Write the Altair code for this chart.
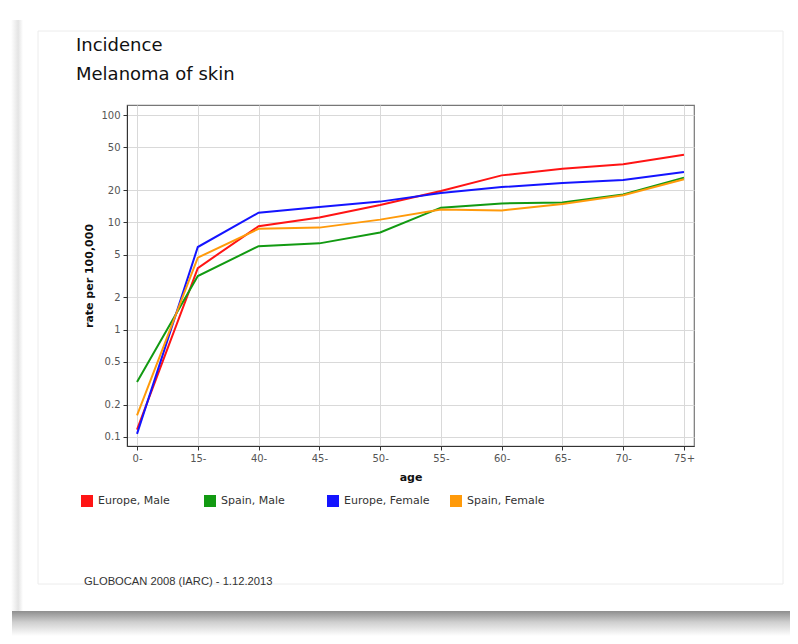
import altair as alt
import pandas as pd

ages = ["0-", "15-", "40-", "45-", "50-", "55-", "60-", "65-", "70-", "75+"]
series_names = ["Europe, Male", "Spain, Male", "Europe, Female", "Spain, Female"]
series_colors = ["#ff1414", "#129a12", "#1414ff", "#ff9a0a"]

europe_male = [0.117, 3.75, 9.2, 11.1, 14.5, 19.6, 27.4, 31.6, 34.7, 42.7]
spain_male = [0.325, 3.16, 6.0, 6.37, 8.05, 13.7, 15.0, 15.3, 18.2, 26.1]
europe_female = [0.107, 5.89, 12.3, 13.9, 15.6, 18.8, 21.3, 23.2, 24.8, 29.4]
spain_female = [0.159, 4.69, 8.7, 8.93, 10.6, 13.2, 12.9, 14.8, 17.9, 25.2]

y_ticks = [0.1, 0.2, 0.5, 1, 2, 5, 10, 20, 50, 100]
title_lines = ["Incidence", "Melanoma of skin"]
footer_text = "GLOBOCAN 2008 (IARC) - 1.12.2013"

rows = []
for name, vals in zip(series_names,
                      [europe_male, spain_male, europe_female, spain_female]):
    for a, v in zip(ages, vals):
        rows.append({"age": a, "rate": v, "series": name})
df = pd.DataFrame(rows)

W, H = 567, 341
PAD_L, PAD_T = 119, 97

lines = alt.Chart(df).mark_line(strokeWidth=2).encode(
    x=alt.X("age:N", sort=ages,
            scale=alt.Scale(type="point", padding=0.165),
            axis=alt.Axis(title="age", labelAngle=0, grid=True,
                          titleFontWeight="bold", titleFontSize=11,
                          titleColor="#111", titlePadding=8)),
    y=alt.Y("rate:Q",
            scale=alt.Scale(type="log", domain=[0.0824, 124], nice=False),
            axis=alt.Axis(title="rate per 100,000", values=y_ticks,
                          format="~g", grid=True,
                          titleFontWeight="bold", titleFontSize=11,
                          titleColor="#111", titlePadding=6)),
    color=alt.Color("series:N", sort=series_names,
                    scale=alt.Scale(domain=series_names, range=series_colors),
                    legend=alt.Legend(title=None, orient="none",
                                      legendX=-46, legendY=390,
                                      direction="horizontal", columns=4,
                                      gridAlign="all", columnPadding=11,
                                      symbolType="square", symbolSize=36,
                                      symbolStrokeWidth=6, symbolOpacity=1,
                                      labelFontSize=11, labelFont="DejaVu Sans",
                                      labelColor="#333", labelOffset=5)),
)

title1 = alt.Chart(pd.DataFrame({"t": [title_lines[0]]})).mark_text(
    align="left", baseline="alphabetic", font="DejaVu Sans", fontSize=18,
    color="#111"
).encode(text="t:N", x=alt.value(-51), y=alt.value(-54))

title2 = alt.Chart(pd.DataFrame({"t": [title_lines[1]]})).mark_text(
    align="left", baseline="alphabetic", font="DejaVu Sans", fontSize=18,
    color="#111"
).encode(text="t:N", x=alt.value(-51), y=alt.value(-25))

footer = alt.Chart(pd.DataFrame({"t": [footer_text]})).mark_text(
    align="left", baseline="middle", font="Liberation Sans", fontSize=11.2,
    color="#333"
).encode(text="t:N", x=alt.value(-43), y=alt.value(477))

card = alt.Chart(pd.DataFrame({"k": [0]})).mark_rect(
    fill="#ffffff", fillOpacity=0, stroke="#ececec", strokeWidth=1
).encode(x=alt.value(-89), x2=alt.value(656), y=alt.value(-74), y2=alt.value(479))

shadow = alt.Chart(pd.DataFrame({"k": [0]})).mark_rect(
    fill=alt.Gradient(gradient="linear",
                      stops=[alt.GradientStop(color="#8e8e8e", offset=0),
                             alt.GradientStop(color="#cfcfcf", offset=0.45),
                             alt.GradientStop(color="#ffffff", offset=1)],
                      x1=0, x2=0, y1=0, y2=1)
).encode(x=alt.value(-115), x2=alt.value(663), y=alt.value(506), y2=alt.value(531))

side_shadow = alt.Chart(pd.DataFrame({"k": [0]})).mark_rect(
    fill=alt.Gradient(gradient="linear",
                      stops=[alt.GradientStop(color="#ffffff", offset=0),
                             alt.GradientStop(color="#e4e4e4", offset=0.6),
                             alt.GradientStop(color="#ffffff", offset=1)],
                      x1=0, x2=1, y1=0, y2=0)
).encode(x=alt.value(-116), x2=alt.value(-104), y=alt.value(-85), y2=alt.value(506))

chart = alt.layer(shadow, side_shadow, card, lines, title1, title2, footer).properties(
    width=W, height=H,
    autosize=alt.AutoSizeParams(type="none"),
    padding={"left": PAD_L, "top": PAD_T, "right": 782 - PAD_L - W,
             "bottom": 628 - PAD_T - H},
    background="#ffffff",
).configure_view(stroke="#777", strokeWidth=1.2).configure_axis(
    domainColor="#333", tickColor="#333", tickSize=4, gridColor="#d9d9d9",
    labelColor="#555", labelFont="DejaVu Sans", labelFontSize=10,
    titleFont="DejaVu Sans", labelPadding=3
)

chart.save("out.html", embed_options={"renderer": "svg", "actions": False})
